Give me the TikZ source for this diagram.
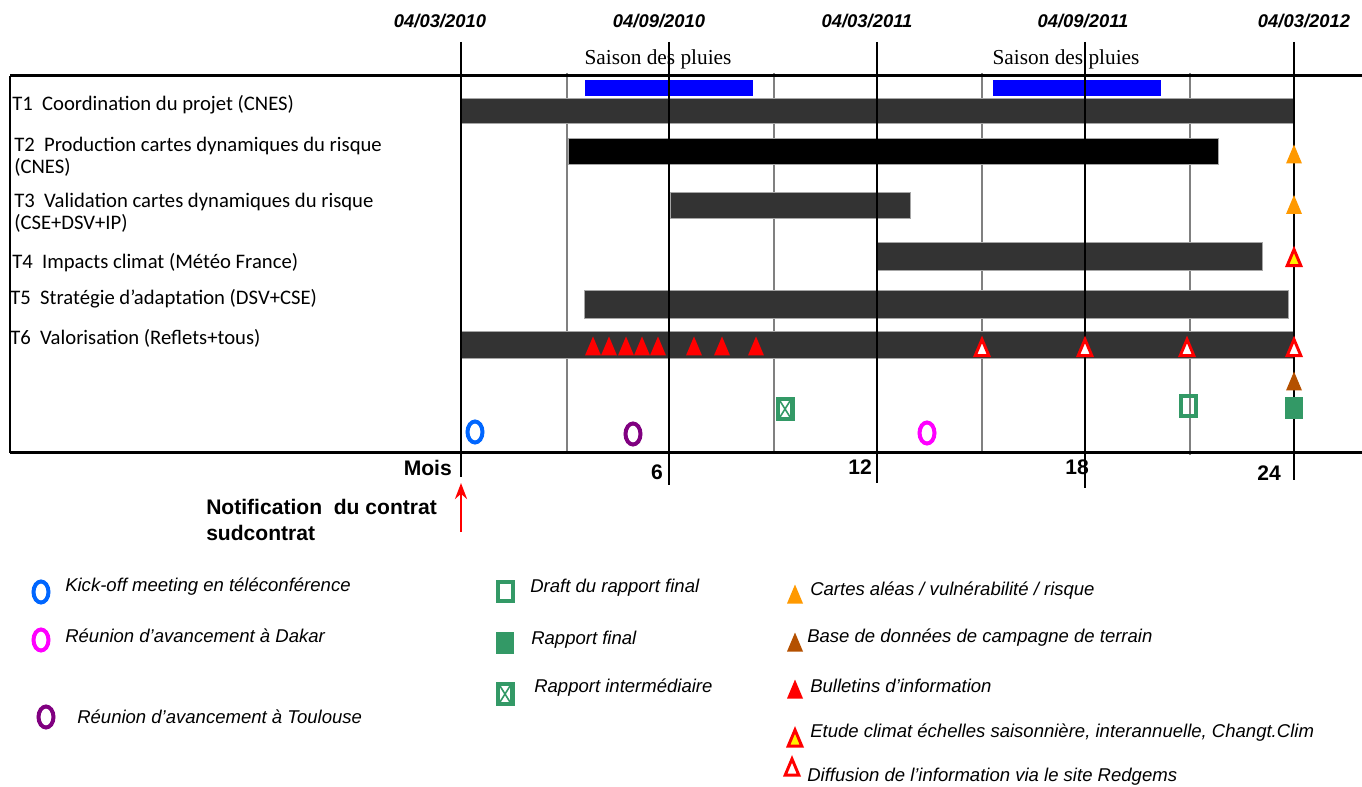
\documentclass[tikz,border=0pt]{standalone}
\usepackage{fontspec}
\setmainfont{Liberation Sans}
\newfontfamily\tachefont{Carlito}
\newfontfamily\saisonfont{Liberation Serif}
\usepackage{tikz}
\usetikzlibrary{arrows.meta, positioning}

\definecolor{barre}{RGB}{51,51,51}
\definecolor{pluie}{RGB}{0,0,255}
\definecolor{vert}{RGB}{51,153,102}
\definecolor{orange}{RGB}{255,153,0}
\definecolor{brun}{RGB}{180,80,0}
\definecolor{bleu}{RGB}{0,102,255}
\definecolor{violet}{RGB}{128,0,128}
\definecolor{magenta}{RGB}{255,0,255}

\begin{document}
\begin{tikzpicture}[x=0.75pt, y=-0.75pt,
  date/.style={font=\bfseries\itshape\fontsize{13.8}{16}\selectfont, inner sep=0pt},
  saison/.style={font=\saisonfont\fontsize{16}{18}\selectfont, inner sep=0pt},
  tache/.style={anchor=west, align=left, inner sep=0pt, font=\tachefont\fontsize{15.5}{16.5}\selectfont},
  mois/.style={font=\bfseries\fontsize{15.8}{19.5}\selectfont, inner sep=0pt},
  legende/.style={anchor=west, inner sep=0pt, font=\itshape\fontsize{13.9}{16}\selectfont},
  barrebox/.style={fill=barre, draw=gray!70, line width=0.75pt},
  grille/.style={draw=gray, line width=1.5pt},
  axe/.style={draw=black, line width=2pt},
  tri/.pic={\path[pic actions] (-8,9.5) -- (0,-9.5) -- (8,9.5) -- cycle;},
  rond/.pic={\path[pic actions, line width=3pt] (0,0) ellipse [x radius=7.5, y radius=10.5];},
  draft/.pic={\draw[vert, line width=3pt] (-7.5,-9.5) rectangle (7.5,9.5);},
  final/.pic={\fill[vert] (-9,-11) rectangle (9,11);},
  inter/.pic={\fill[vert] (-9.5,-12) rectangle (9.5,12);
    \fill[white] (-5,-8) rectangle (5,8);
    \draw[vert, line width=1.2pt] (-5,-8) -- (5,8) (5,-8) -- (-5,8);},
  blanc/.style={fill=white, draw=red, line width=2.2pt, scale=0.85},
  jaune/.style={fill=yellow, draw=red, line width=2.2pt, scale=0.85}]
\useasboundingbox (0,0) rectangle (1362,787);

% Grille
\foreach \x/\b in {567/452, 774/452, 982/452, 1190/455}
  \draw[grille] (\x,73) -- (\x,\b);

% Taches
\foreach \xa/\ya/\xb/\yb in {461/99/1294/124, 670/193/910/219, 877/243/1262/271, 584/291/1288/319, 461/332/1294/359}
  \filldraw[barrebox] (\xa,\ya) rectangle (\xb,\yb);
\filldraw[barrebox, fill=black] (568,139) rectangle (1218,165);
\fill[pluie] (585,80) rectangle (753,96);
\fill[pluie] (993,80) rectangle (1161,96);

% Axes
\foreach \x/\b in {461/477, 669/485, 877/483, 1085/488, 1294/480}
  \draw[axe] (\x,42) -- (\x,\b);
\draw[axe, line width=2.25pt] (10,76) -- (1362,76);
\draw[axe, line width=2.25pt] (10,452) -- (1362,452);
\draw[axe] (10,76) -- (10,453);

% Dates
\node[date] (d1) at (440,21) {04/03/2010};
\node[date] (d2) at (659,21) {04/09/2010};
\node[date] (d3) at (867,21) {04/03/2011};
\node[date] (d4) at (1083,21) {04/09/2011};
\node[date] (d5) at (1304,21) {04/03/2012};
\node[saison] (s1) at (658,59) {Saison des pluies};
\node[saison] (s2) at (1066,59) {Saison des pluies};

% Libelles
\node[tache] (t1) at (12,105) {T1\ \ Coordination du projet (CNES)};
\node[tache] (t2) at (14,157) {T2\ \ Production cartes dynamiques du risque\\(CNES)};
\node[tache] (t3) at (14,212.5) {T3\ \ Validation cartes dynamiques du risque\\(CSE+DSV+IP)};
\node[tache] (t4) at (12,263) {T4\ \ Impacts climat (Météo France)};
\node[tache] (t5) at (10,299) {T5\ \ Stratégie d’adaptation (DSV+CSE)};
\node[tache] (t6) at (10,338) {T6\ \ Valorisation (Reflets+tous)};

% Mois
\node[mois, anchor=east] (m0) at (452,468) {Mois};
\node[mois] (m6) at (657,472) {6};
\node[mois] (m12) at (860,467) {12};
\node[mois] (m18) at (1077,467) {18};
\node[mois] (m24) at (1269,473) {24};
\node[mois, anchor=west, align=left] (notif) at (206,520) {Notification\ \ du contrat\\sudcontrat};
\coordinate (fa) at (461,532);
\coordinate (fb) at (461,483);
\draw[red, line width=2pt, -{Stealth[length=12pt, width=9pt]}] (fa) -- (fb);

% Jalons
\foreach \x in {593,609,626,642,658,694,722,756}
  \pic[fill=red] at (\x,346) {tri};
\foreach \x in {982,1085,1187,1294}
  \pic[blanc] at (\x,347.5) {tri};
\pic[fill=orange] at (1294,154) {tri};
\pic[fill=orange] at (1294,204.5) {tri};
\pic[jaune] at (1294,257.5) {tri};
\pic[fill=brun] at (1294,381) {tri};
\pic at (1294,408) {final};
\pic at (1188,406) {draft};
\pic at (785,409) {inter};
\pic[draw=bleu] at (475,432) {rond};
\pic[draw=violet] at (633,434) {rond};
\pic[draw=magenta] at (927,433) {rond};

% Legende
\pic[draw=bleu] at (41,592) {rond};
\node[legende] (l1) at (65,587) {Kick-off meeting en téléconférence};
\pic[draw=magenta] at (41,640) {rond};
\node[legende] (l2) at (65,636) {Réunion d’avancement à Dakar};
\pic[draw=violet] at (46,717) {rond};
\node[legende] (l3) at (77,717) {Réunion d’avancement à Toulouse};
\pic at (505,591) {draft};
\node[legende] (l4) at (530,588) {Draft du rapport final};
\pic at (505,643) {final};
\node[legende] (l5) at (531,640) {Rapport final};
\pic at (505,694) {inter};
\node[legende] (l6) at (534,688) {Rapport intermédiaire};
\pic[fill=orange] at (795,594) {tri};
\node[legende] (l7) at (810,591) {Cartes aléas / vulnérabilité / risque};
\pic[fill=brun] at (795,642) {tri};
\node[legende] (l8) at (807,638) {Base de données de campagne de terrain};
\pic[fill=red] at (795,689) {tri};
\node[legende] (l9) at (810,686) {Bulletins d’information};
\pic[jaune] at (795,738) {tri};
\node[legende] (l10) at (810,733) {Etude climat échelles saisonnière, interannuelle, Changt.Clim};
\pic[blanc] at (792,767) {tri};
\node[legende] (l11) at (807,777) {Diffusion de l’information via le site Redgems};
\end{tikzpicture}
\end{document}
